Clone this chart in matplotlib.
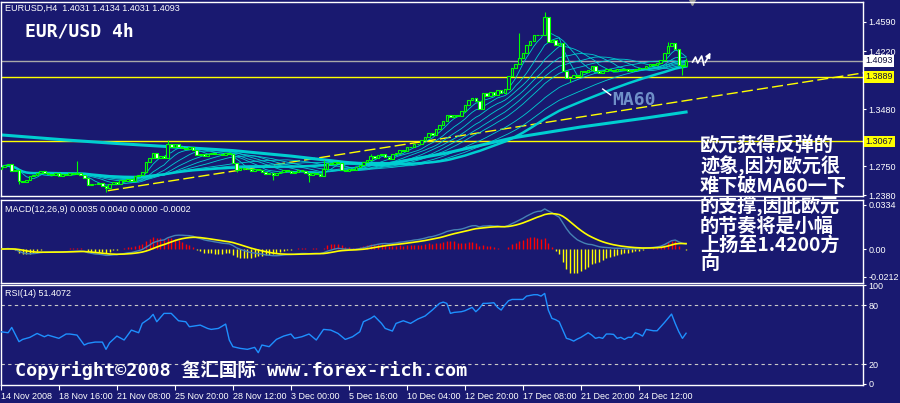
import numpy as np
import pandas as pd
import matplotlib
matplotlib.use("Agg")
import matplotlib.pyplot as plt
import matplotlib.transforms as mtrans

# EURUSD H4, 14 Nov - 24 Dec 2008 (收盘价, 从图上读出)
closes = [
    1.2740, 1.2760, 1.2780, 1.2690, 1.2700, 1.2560, 1.2555, 1.2580, 1.2620, 1.2640,
    1.2660, 1.2690, 1.2670, 1.2650, 1.2640, 1.2660, 1.2630, 1.2650, 1.2640, 1.2660,
    1.2650, 1.2660, 1.2640, 1.2600, 1.2510, 1.2530, 1.2520, 1.2540, 1.2500, 1.2470,
    1.2520, 1.2550, 1.2530, 1.2570, 1.2560, 1.2590, 1.2560, 1.2620, 1.2640, 1.2680,
    1.2800, 1.2850, 1.2920, 1.2860, 1.2880, 1.2850, 1.3030, 1.3000, 1.3030, 1.2990,
    1.2980, 1.2970, 1.2990, 1.2960, 1.2890, 1.2910, 1.2880, 1.2900, 1.2920, 1.2900,
    1.2910, 1.2890, 1.2920, 1.2910, 1.2790, 1.2700, 1.2730, 1.2720, 1.2710, 1.2690,
    1.2720, 1.2700, 1.2680, 1.2650, 1.2660, 1.2640, 1.2660, 1.2680, 1.2700, 1.2690,
    1.2670, 1.2680, 1.2700, 1.2690, 1.2660, 1.2640, 1.2670, 1.2650, 1.2620, 1.2720,
    1.2790, 1.2780, 1.2800, 1.2790, 1.2700, 1.2690, 1.2710, 1.2700, 1.2740, 1.2770,
    1.2800, 1.2830, 1.2880, 1.2860, 1.2890, 1.2900, 1.2870, 1.2840, 1.2900, 1.2920,
    1.2960, 1.2950, 1.2990, 1.3000, 1.3040, 1.3030, 1.3080, 1.3120, 1.3170, 1.3150,
    1.3220, 1.3270, 1.3330, 1.3400, 1.3380, 1.3410, 1.3390, 1.3450, 1.3530, 1.3600,
    1.3620, 1.3580, 1.3480, 1.3680, 1.3650, 1.3700, 1.3660, 1.3720, 1.3680, 1.3740,
    1.3900, 1.4000, 1.4050, 1.4130, 1.4200, 1.4300, 1.4350, 1.4420, 1.4430, 1.4420,
    1.4650, 1.4330, 1.4360, 1.4300, 1.4320, 1.3960, 1.3880, 1.3870, 1.3920, 1.3900,
    1.3960, 1.3950, 1.3980, 1.4030, 1.3960, 1.3940, 1.3970, 1.3990, 1.3980, 1.3970,
    1.3990, 1.3980, 1.3990, 1.3970, 1.3980, 1.3990, 1.4000, 1.4000, 1.4030, 1.4050,
    1.4040, 1.4070, 1.4100, 1.4200, 1.4280, 1.4320, 1.4250, 1.4040, 1.4031, 1.4093,
]
first_open = 1.2720
# 明显的上下影线
high_ext = {21: 1.2820, 46: 1.3085, 89: 1.2830, 102: 1.2905, 143: 1.4450,
            150: 1.4718, 184: 1.4335, 189: 1.4134}
low_ext = {5: 1.2530, 29: 1.2420, 65: 1.2677, 75: 1.2575, 85: 1.2550,
           157: 1.3825, 188: 1.3914}

ma_periods = [5, 10, 15, 20, 25, 30, 40, 50]
# 长期均线 (粗线)
long_ma_bar = [0, 18, 32, 50, 64, 80, 95, 105, 123, 141, 160, 178, 189]
long_ma_val = [1.3150, 1.3085, 1.3040, 1.2990, 1.2950, 1.2880, 1.2800, 1.2766,
               1.2919, 1.3110, 1.3251, 1.3366, 1.3442]

rsi_bar = [0, 2, 3, 5, 6, 8, 10, 12, 13, 16, 18, 19, 21, 23, 24, 26, 28, 29, 30,
           32, 34, 35, 36, 38, 39, 41, 42, 43, 45, 47, 49, 51, 52, 55, 57, 58,
           60, 62, 63, 64, 66, 68, 70, 71, 72, 74, 76, 78, 80, 81, 83, 85, 87,
           89, 91, 93, 95, 97, 99, 100, 102, 103, 105, 106, 108, 109, 111, 113,
           115, 117, 119, 121, 122, 123, 124, 125, 127, 128, 130, 131, 132, 133,
           134, 136, 137, 138, 139, 140, 141, 144, 145, 147, 148, 149, 150, 151,
           152, 153, 154, 155, 156, 157, 158, 159, 160, 161, 162, 163, 164, 165,
           166, 167, 168, 169, 170, 171, 172, 173, 174, 175, 176, 177, 178, 179,
           180, 181, 182, 183, 184, 185, 186, 187, 188, 189]
rsi_val = [52.9, 51.9, 57.3, 42.8, 45.1, 47.2, 51.2, 47.8, 49.5, 46.2, 50.6, 50.6,
           49.5, 39.4, 41.1, 42.4, 42.4, 35.0, 41.7, 48.5, 44.5, 49.5, 54.6, 51.9,
           61.4, 66.5, 70.6, 63.1, 71.6, 71.6, 64.1, 63.1, 58.0, 59.7, 56.3, 55.3,
           56.3, 60.7, 44.5, 37.7, 36.0, 35.0, 37.0, 31.6, 39.4, 37.7, 45.1, 48.5,
           50.6, 46.2, 47.8, 50.6, 44.5, 55.3, 54.6, 51.2, 45.1, 47.8, 52.9, 63.1,
           66.5, 68.9, 61.4, 56.3, 53.6, 61.4, 64.1, 61.4, 65.8, 68.9, 75.0, 81.8,
           83.1, 81.8, 71.6, 72.6, 73.3, 74.3, 77.7, 73.3, 76.7, 81.8, 81.8, 82.4,
           77.7, 75.0, 80.1, 84.4, 85.8, 85.8, 89.2, 90.6, 90.6, 89.2, 91.9, 75.0,
           66.5, 65.2, 63.1, 54.6, 46.2, 45.1, 43.4, 45.5, 47.2, 49.5, 51.9, 49.5,
           46.2, 47.2, 46.2, 50.6, 50.6, 50.2, 46.2, 47.2, 45.1, 47.2, 47.2, 51.9,
           50.6, 48.5, 55.3, 54.6, 53.9, 53.9, 58.0, 62.1, 66.5, 70.9, 61.4, 52.9,
           46.2, 51.4]

price_ticks = [1.4590, 1.4220, 1.3480, 1.3110, 1.2750, 1.2380]
bid_level = 1.4093
support_levels = [1.3889, 1.3067]
trend_bar = [29.5, 237.8]
trend_px = [1.2438, 1.3940]

date_ticks = [0, 16, 32, 48, 64, 80, 96, 112, 128, 144, 160, 176]
date_labels = ['14 Nov 2008', '18 Nov 16:00', '21 Nov 08:00', '25 Nov 20:00',
               '28 Nov 12:00', '3 Dec 00:00', '5 Dec 16:00', '10 Dec 04:00',
               '12 Dec 20:00', '17 Dec 08:00', '21 Dec 20:00', '24 Dec 12:00']

# 手画箭头和 MA60 标注 (K线序号, 价格)
scribble_bar = [190.8, 191.6, 192.2, 193.3, 193.9, 196.1]
scribble_px = [1.4080, 1.4143, 1.4067, 1.4156, 1.4041, 1.4233]
pointer_bar = [166.0, 168.2]
pointer_px = [1.3735, 1.3659]

note = "欧元获得反弹的\n迹象,因为欧元很\n难下破MA60一下\n的支撑,因此欧元\n的节奏将是小幅\n上扬至1.4200方\n向"

BG = '#191970'
LIME = '#00ff00'
TURQ = '#00ced1'
SMALL = dict(family='Liberation Sans', size=6.5, color='white')

plt.rcParams['font.family'] = ['DejaVu Sans', 'Noto Sans CJK SC']

fig = plt.figure(figsize=(9, 4.03), dpi=100, facecolor=BG)
W, H = 900.0, 403.0


def rect(top, bottom):
    return [0.5 / W, 1 - bottom / H, 862.5 / W, (bottom - top) / H]


ax1 = fig.add_axes(rect(2, 196))
ax2 = fig.add_axes(rect(200, 283))
ax3 = fig.add_axes(rect(285, 385))
xlim = (-0.1, 237.8)

for ax in (ax1, ax2, ax3):
    ax.set_facecolor(BG)
    ax.set_xlim(*xlim)
    for sp in ax.spines.values():
        sp.set_color('white')
        sp.set_linewidth(1)
    ax.yaxis.tick_right()
    ax.tick_params(axis='y', colors='white', length=2.5, width=0.8, pad=1.5,
                   labelsize=6.5, labelfontfamily='Liberation Sans')
    ax.tick_params(axis='x', colors='white', length=3.5, width=0.8, pad=1.5,
                   labelsize=6.5, labelfontfamily='Liberation Sans')

n = len(closes)
x = np.arange(n)
close_s = pd.Series(closes)
opens = [first_open] + closes[:-1]
highs = [max(o, c) for o, c in zip(opens, closes)]
lows = [min(o, c) for o, c in zip(opens, closes)]
for i, v in high_ext.items():
    highs[i] = v
for i, v in low_ext.items():
    lows[i] = v

# ---- 主图 ----
ax1.set_ylim(1.23706, 1.48451)
ax1.set_xticks([])
ax1.set_yticks(price_ticks)
ax1.set_yticklabels(['%.4f' % p for p in price_ticks])

for p in ma_periods:
    ax1.plot(x, close_s.rolling(p, min_periods=1).mean(), color=TURQ, lw=0.6, zorder=2)
ax1.plot(x, close_s.rolling(60, min_periods=1).mean(), color=TURQ, lw=1.8, zorder=2)
ax1.plot(long_ma_bar, long_ma_val, color=TURQ, lw=2.2, zorder=2)

ax1.axhline(bid_level, color='#a9a9a9', lw=1, zorder=1)
for lv in support_levels:
    ax1.axhline(lv, color='yellow', lw=1, zorder=1)
ax1.plot(trend_bar, trend_px, color='yellow', lw=1.0, dashes=(8, 3), zorder=1)

up = [c >= o for o, c in zip(opens, closes)]
ax1.vlines(x, lows, highs, color=LIME, lw=0.8, zorder=3)
body_lo = [min(o, c) for o, c in zip(opens, closes)]
body_h = [abs(c - o) for o, c in zip(opens, closes)]
ax1.bar(x, body_h, bottom=body_lo, width=0.7,
        color=[BG if u else 'white' for u in up], edgecolor=LIME, lw=0.8, zorder=4)

# 右侧价格标签
blend = mtrans.blended_transform_factory(ax1.transAxes, ax1.transData)
ax1.text(1.003, bid_level, '%.4f' % bid_level, transform=blend, va='center',
         ha='left', family='Liberation Sans', size=6.5, color='#101040',
         bbox=dict(boxstyle='square,pad=0.15', fc='white', ec='none'), zorder=10)
for lv in support_levels:
    ax1.text(1.003, lv, '%.4f' % lv, transform=blend, va='center', ha='left',
             family='Liberation Sans', size=6.5, color='#101040',
             bbox=dict(boxstyle='square,pad=0.15', fc='yellow', ec='none'), zorder=10)

ax1.text(168.7, 1.3589, 'MA60', color='#6f8fc8', family='DejaVu Sans Mono',
         weight='bold', size=13, va='center', ha='left', zorder=6)
ax1.plot(pointer_bar, pointer_px, color='white', lw=1, zorder=6)
ax1.plot(scribble_bar[:-1], scribble_px[:-1], color='white', lw=1.2, zorder=6, clip_on=False)
ax1.annotate('', xy=(scribble_bar[-1], scribble_px[-1]),
             xytext=(scribble_bar[-2], scribble_px[-2]),
             arrowprops=dict(arrowstyle='-|>', color='white', lw=1.2,
                             mutation_scale=7), zorder=6)
ax1.plot([190.5], [1.4845], marker='v', color='#9a9a9a', ms=5, clip_on=False)

# ---- MACD ----
ema12 = close_s.ewm(span=12, adjust=False).mean()
ema26 = close_s.ewm(span=26, adjust=False).mean()
dif = ema12 - ema26
dea = dif.ewm(span=9, adjust=False).mean()
hist = 2 * (dif - dea)
ax2.set_ylim(-0.02575, 0.03719)
ax2.set_xticks([])
ax2.set_yticks([0.0334, 0.0, -0.0212])
ax2.set_yticklabels(['0.0334', '0.00', '-0.0212'])
ax2.vlines(x, 0, hist, colors=['red' if h >= 0 else 'yellow' for h in hist],
           lw=1.0, zorder=2)
ax2.plot(x, dif, color='#4682b4', lw=1.0, zorder=3)
ax2.plot(x, dea, color='yellow', lw=1.2, zorder=3)

# ---- RSI ----
ax3.set_ylim(-1.3, 100.5)
ax3.set_yticks([100, 80, 20, 0])
ax3.set_yticklabels(['100', '80', '20', '0'])
for lv in (80, 20):
    ax3.axhline(lv, color='#c8c8c8', lw=0.8, dashes=(3, 3), zorder=1)
ax3.plot(rsi_bar, rsi_val, color='#1e90ff', lw=1.0, zorder=3)
ax3.set_xticks(date_ticks)
ax3.set_xticklabels(date_labels, ha='left')


# ---- 文字 ----
def fx(px):
    return px / W


def fy(py):
    return 1 - py / H


fig.text(fx(5), fy(8), 'EURUSD,H4  1.4031 1.4134 1.4031 1.4093', va='center', **SMALL)
fig.text(fx(5), fy(209), 'MACD(12,26,9) 0.0035 0.0040 0.0000 -0.0002', va='center', **SMALL)
fig.text(fx(5), fy(294), 'RSI(14) 51.4072', va='center', **SMALL)
fig.text(fx(25), fy(31.5), 'EUR/USD 4h', va='center', family='DejaVu Sans Mono',
         weight='bold', size=13, color='white')
fig.text(fx(700), fy(137), note, va='top', ha='left', family='Noto Sans CJK SC',
         weight='bold', size=13.8, color='white', linespacing=1.0)
fig.text(fx(15), fy(370), 'Copyright©2008 玺汇国际 www.forex-rich.com', va='center',
         family=['DejaVu Sans Mono', 'Noto Sans CJK SC'], weight='bold', size=13.3,
         color='white')

fig.savefig('out.png', dpi=100, facecolor=BG)
